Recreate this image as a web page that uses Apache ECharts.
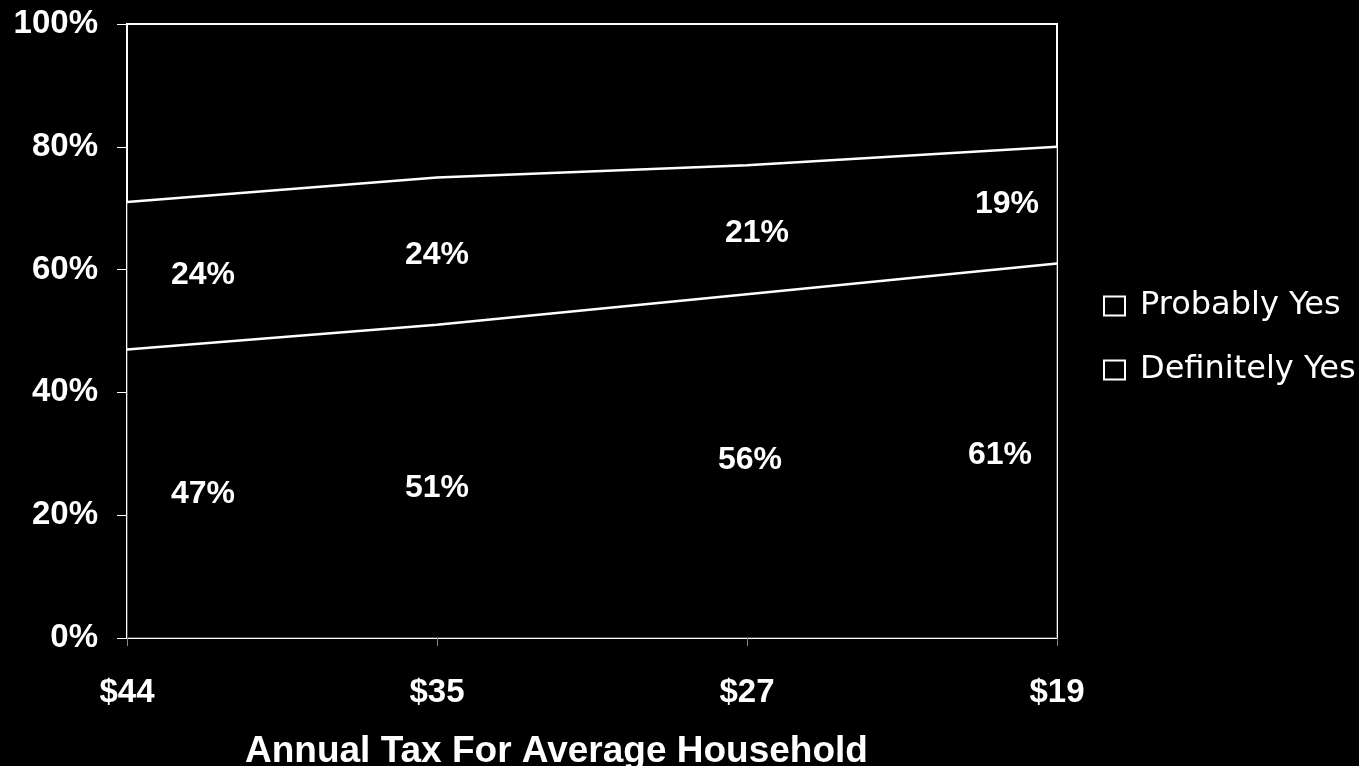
<!DOCTYPE html>
<html>
<head>
<meta charset="utf-8">
<script src="https://cdn.jsdelivr.net/npm/echarts@6/dist/echarts.min.js"></script>
<style>
  html, body { margin: 0; padding: 0; background: #000; }
  #chart { width: 1359px; height: 766px; }
</style>
</head>
<body>
<div id="chart"></div>
<script>
// Annual tax levels (categories) and share of respondents voting yes
const taxLevels = ['$44', '$35', '$27', '$19'];
const definitelyYes = [47, 51, 56, 61];
const probablyYes = [24, 24, 21, 19];
const yTicks = [0, 20, 40, 60, 80, 100];

// Label nudges (px) so values sit inside their bands
const definitelyOffsets = [[76, 0], [0, 7], [3, -6], [-57, 4]];
const probablyOffsets = [[76, -1], [0, 4], [10, 3], [-50, -1]];

const FONT = 'Arial, "Liberation Sans", sans-serif';

// Band midpoints for value labels
const definitelyMid = definitelyYes.map(v => v / 2);
const probablyMid = probablyYes.map((v, i) => definitelyYes[i] + v / 2);

function labelSeries(name, mids, values, offsets) {
  return {
    name: name,
    type: 'scatter',
    symbolSize: 0,
    silent: true,
    z: 5,
    itemStyle: { opacity: 1, color: '#fff' },
    data: mids.map((m, i) => ({
      value: m,
      label: { offset: offsets[i] }
    })),
    label: {
      show: true,
      position: 'inside',
      color: '#fff',
      opacity: 1,
      fontFamily: FONT,
      fontWeight: 'bold',
      fontSize: 32,
      formatter: p => values[p.dataIndex] + '%'
    }
  };
}

const chart = echarts.init(document.getElementById('chart'));
chart.setOption({
  backgroundColor: '#000',
  animation: false,
  title: {
    text: 'Annual Tax For Average Household',
    left: 240,
    top: 728,
    textStyle: { color: '#fff', fontFamily: FONT, fontWeight: 'bold', fontSize: 37 }
  },
  grid: {
    left: 127, right: 302, top: 24, bottom: 128,
    show: true, borderColor: '#fff', borderWidth: 2, backgroundColor: '#000'
  },
  legend: {
    orient: 'vertical',
    left: 1098,
    top: 285,
    itemWidth: 21,
    itemHeight: 19,
    itemGap: 32,
    icon: 'rect',
    data: ['Probably Yes', 'Definitely Yes'],
    itemStyle: { color: '#000', borderColor: '#fff', borderWidth: 2 },
    lineStyle: { opacity: 0 },
    formatter: name => '{t|' + name + '}',
    textStyle: {
      color: '#fff',
      fontFamily: '"DejaVu Sans", sans-serif',
      fontSize: 32,
      rich: {
        t: { color: '#fff', fontFamily: '"DejaVu Sans", sans-serif', fontSize: 32, padding: [0, 0, 0, 10] }
      }
    }
  },
  xAxis: {
    type: 'category',
    data: taxLevels,
    boundaryGap: false,
    axisLine: { lineStyle: { color: '#fff', width: 2 } },
    axisTick: { show: true, alignWithLabel: true, length: 8, lineStyle: { color: '#888', width: 1 } },
    axisLabel: { color: '#fff', fontFamily: FONT, fontWeight: 'bold', fontSize: 33, margin: 38 },
    splitLine: { show: false }
  },
  yAxis: {
    type: 'value',
    min: yTicks[0],
    max: yTicks[yTicks.length - 1],
    interval: yTicks[1] - yTicks[0],
    axisLine: { show: true, lineStyle: { color: '#fff', width: 2 } },
    axisTick: { show: true, length: 10, lineStyle: { color: '#fff', width: 1 } },
    axisLabel: { color: '#fff', fontFamily: FONT, fontWeight: 'bold', fontSize: 33, margin: 29, formatter: '{value}%' },
    splitLine: { show: false }
  },
  series: [
    {
      name: 'Definitely Yes',
      type: 'line',
      stack: 'total',
      data: definitelyYes,
      showSymbol: false,
      lineStyle: { color: '#fff', width: 2.5 },
      itemStyle: { color: '#000', borderColor: '#fff' },
      areaStyle: { color: '#000' }
    },
    {
      name: 'Probably Yes',
      type: 'line',
      stack: 'total',
      data: probablyYes,
      showSymbol: false,
      lineStyle: { color: '#fff', width: 2.5 },
      itemStyle: { color: '#000', borderColor: '#fff' },
      areaStyle: { color: '#000' }
    },
    labelSeries('definitelyLabels', definitelyMid, definitelyYes, definitelyOffsets),
    labelSeries('probablyLabels', probablyMid, probablyYes, probablyOffsets)
  ]
});
</script>
</body>
</html>
